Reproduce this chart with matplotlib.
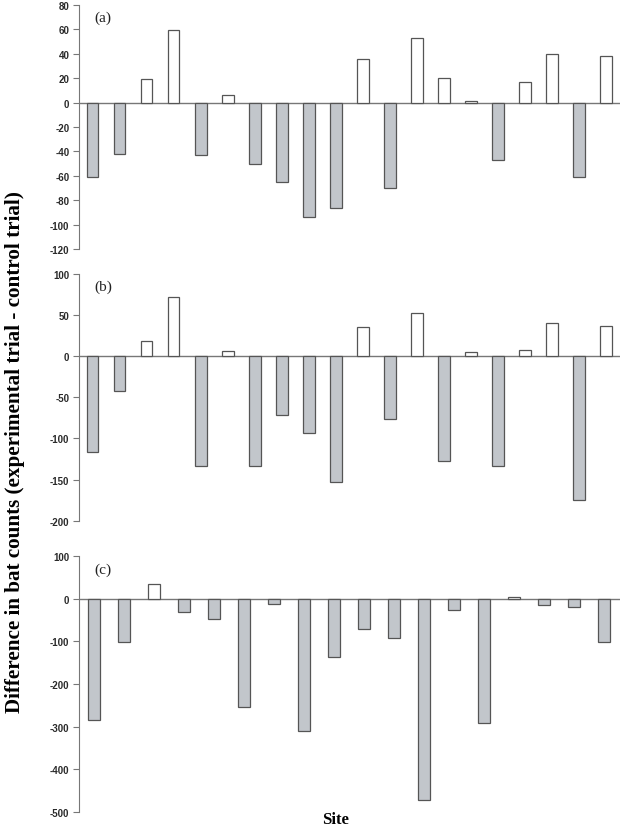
import matplotlib.pyplot as plt

# site-level differences (experimental trial - control trial)
sites_ab = list(range(1, 21))
sites_c = list(range(1, 19))

diff_a = [-61, -42, 19, 59, -43, 6, -50, -65, -94, -86,
          36, -70, 53, 20, 1.5, -47, 17, 40, -61, 38]
diff_b = [-117, -42, 19, 72, -134, 6, -133, -72, -94, -153,
          36, -77, 53, -128, 5, -133, 7, 40, -175, 37]
diff_c = [-285, -101, 35, -31, -48, -254, -13, -311, -137, -72,
          -91, -473, -27, -291, 5, -14, -19, -101]

panel_labels = ['(a)', '(b)', '(c)']
ylims = [(-120, 80), (-200, 100), (-500, 100)]
yticks = [list(range(-120, 81, 20)), list(range(-200, 101, 50)), list(range(-500, 101, 100))]

grey = '#c2c6cb'
edge = '#555555'
axis_col = '#777777'

fig = plt.figure(figsize=(6.22, 8.28), dpi=100)

# axes boxes in figure fractions: [left, bottom, width, height]
boxes = [
    [0.127, 0.698, 0.870, 0.295],
    [0.127, 0.370, 0.870, 0.298],
    [0.127, 0.0185, 0.870, 0.3085],
]
datasets = [(sites_ab, diff_a, 0.44), (sites_ab, diff_b, 0.44), (sites_c, diff_c, 0.40)]

for box, (x, y, w), lab, lim, ticks in zip(boxes, datasets, panel_labels, ylims, yticks):
    ax = fig.add_axes(box)
    colors = ['white' if v > 0 else grey for v in y]
    ax.bar(x, y, width=w, color=colors, edgecolor=edge, linewidth=0.9, zorder=2)
    ax.axhline(0, color=axis_col, linewidth=1.0, zorder=1)
    ax.set_xlim(0.5, len(x) + 0.53)
    ax.set_ylim(*lim)
    ax.set_yticks(ticks)
    ax.set_yticklabels([str(t) for t in ticks], fontfamily='Liberation Sans',
                       fontweight='bold', fontsize=7, color='#2a2a2a')
    ax.tick_params(axis='y', direction='out', length=4, width=0.8, color=axis_col, pad=3)
    ax.set_xticks([])
    for s in ['top', 'right', 'bottom']:
        ax.spines[s].set_visible(False)
    ax.spines['left'].set_color(axis_col)
    ax.spines['left'].set_linewidth(0.8)
    ax.text(0.045, 0.95, lab, transform=ax.transAxes, fontfamily='Liberation Serif',
            fontsize=11, va='center', ha='center', color='#222222')

fig.text(0.024, 0.454, 'Difference in bat counts (experimental trial - control trial)',
         rotation=90, va='center', ha='center', fontfamily='Liberation Serif',
         fontweight='bold', fontsize=15.2)
fig.text(0.539, 0.010, 'Site', va='center', ha='center', fontfamily='Liberation Serif',
         fontweight='bold', fontsize=12)

fig.savefig('out.png', dpi=100)
